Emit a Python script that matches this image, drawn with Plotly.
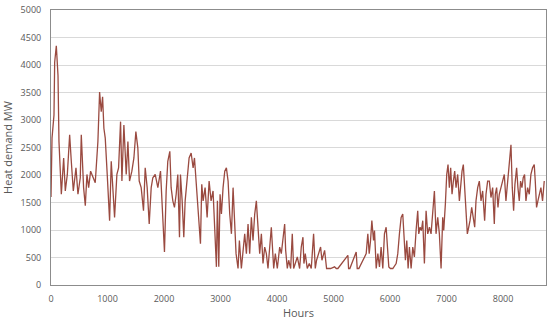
import plotly.graph_objects as go

# hours of the year (x) and heat demand in MW (y)
hours = [
    0, 6, 18, 53, 65, 94, 124, 141, 159, 183, 224, 253, 289, 330, 359, 395, 442, 477, 518, 536,
    577, 607, 636, 666, 701, 742, 783, 830, 860, 889, 913, 936, 960, 995, 1037, 1066, 1090, 1125,
    1166, 1196, 1231, 1255, 1290, 1331, 1361, 1390, 1431, 1467, 1502, 1537, 1561, 1596, 1637,
    1667, 1702, 1738, 1773, 1802, 1844, 1891, 1938, 1973, 2008, 2038, 2067, 2103, 2126, 2156,
    2185, 2215, 2244, 2274, 2291, 2321, 2350, 2374, 2409, 2444, 2480, 2515, 2539, 2574, 2609,
    2645, 2668, 2692, 2727, 2763, 2798, 2833, 2868,
    2898, 2927, 2945, 2969, 2992, 3016, 3045, 3075, 3104, 3134, 3163, 3193, 3222, 3251, 3275,
    3310, 3334, 3369, 3399, 3428, 3458, 3487, 3516, 3546, 3575, 3605, 3634, 3664, 3693, 3723,
    3752, 3782, 3811, 3840, 3870, 3899, 3941, 3970, 4005, 4047, 4076, 4105, 4135, 4153, 4182,
    4206, 4241, 4270, 4294, 4323, 4359, 4400, 4429, 4459, 4476, 4500, 4535, 4571, 4606, 4647,
    4677, 4700, 4736, 4771, 4795, 4818, 4842, 4877, 4901, 4948, 5018, 5048, 5077, 5254, 5266,
    5289, 5401, 5419, 5448, 5578, 5607, 5631, 5655, 5678, 5708, 5725, 5755, 5784,
    5813, 5842, 5872, 5901, 5931, 5960, 5978, 6007, 6049, 6108, 6137, 6166, 6196, 6225, 6249,
    6272, 6296, 6320, 6343, 6373, 6402, 6431, 6461, 6490, 6508, 6532, 6555, 6579, 6608, 6638,
    6667, 6697, 6726, 6755, 6785, 6814, 6844, 6873, 6903, 6932, 6950, 6979, 7003, 7026, 7050,
    7073, 7097, 7121, 7144, 7168, 7197, 7227, 7250, 7274, 7297, 7321, 7344, 7368, 7392, 7415,
    7445, 7474, 7498, 7521, 7551, 7580, 7610, 7639, 7674, 7698, 7727, 7757, 7786, 7816, 7845,
    7863, 7886, 7910, 7933, 7963, 7992, 8022, 8051, 8081, 8110, 8140, 8163, 8187, 8210, 8240,
    8263, 8287, 8310, 8334, 8357, 8381, 8405, 8434, 8464, 8493, 8522, 8552, 8570, 8593, 8617,
    8640, 8670, 8699, 8729, 8758,
]
demand = [
    1600, 2430, 2670, 3090, 4050, 4350, 3810, 2610, 2130, 1650, 2310, 1710, 2010, 2730, 2250, 1710, 2130, 1650, 1950, 2730,
    1770, 1440, 2010, 1770, 2070, 1950, 1860, 2610, 3510, 3150, 3420, 2850, 2670, 2010, 1170, 2250, 1770, 1230,
    2010, 2130, 2970, 1890, 2910, 2010, 2610, 1890, 2070, 2310, 2790, 2490, 1890, 1770, 1350,
    2130, 1770, 1110, 1770, 1950, 2010, 1770, 2070, 1410, 600, 1710, 2250, 2430, 1770, 1530,
    1410, 1650, 2010, 870, 2010, 1530, 870, 1530, 2010, 2310, 2400, 2130, 2310, 1770, 1410,
    750, 1830, 1530, 1770, 1230, 1890, 1530,
    1710, 930, 330, 1530, 330, 1650, 1290, 1770, 2070, 2130, 1890, 1290, 930, 1770, 990,
    570, 300, 810, 300, 570, 930, 570, 1110, 570, 1230, 810, 1290, 1530, 1050, 570,
    930, 390, 690, 570, 300, 630, 1050, 300, 570, 300, 690, 570, 810, 1110, 630,
    300, 450, 300, 930, 300, 390, 510, 300, 690, 870, 390, 570, 300, 390, 300,
    930, 300, 450, 570, 690, 450, 570, 630, 300, 300, 300, 330, 300, 300, 540,
    300, 300, 600, 300, 300, 570, 930, 570, 810, 1170, 810, 990, 300,
    570, 330, 690, 300, 930, 1050, 570, 330, 300, 300, 390, 570, 930, 1230, 1290,
    930, 450, 810, 300, 690, 300, 690, 510, 990, 1350, 930, 1050, 990, 1170, 390,
    1350, 930, 1050, 930, 1290, 1710, 930, 1230, 930, 300, 1230, 990, 1470, 2010, 2190,
    1770, 2130, 1650, 1890, 2070, 1770, 2010, 1530, 1890, 2070, 2190, 1770, 1290, 930, 1050,
    1170, 1410, 1170, 1050, 1530, 1770, 1890, 1530, 1710, 1170, 1650, 1890, 1890, 1590, 1770,
    1110, 1650, 1770, 1410, 1650, 1770, 1890, 2010, 1530, 1890, 2130, 2550, 1770, 1350, 1830,
    2130, 1770, 1530, 1890, 1770, 1950, 2010, 1530, 1770, 1650, 2010, 2130, 2190, 1890, 1410,
    1530, 1650, 1770, 1530, 1890,
]

y_ticks = [0, 500, 1000, 1500, 2000, 2500, 3000, 3500, 4000, 4500, 5000]
x_ticks = [0, 1000, 2000, 3000, 4000, 5000, 6000, 7000, 8000]

fig = go.Figure()
fig.add_trace(go.Scatter(x=hours, y=demand, mode="lines",
                         line=dict(color="#9a4a40", width=1.3), showlegend=False))

font = dict(family="Open Sans, Liberation Sans, sans-serif", size=9, color="#595959")

fig.update_xaxes(range=[0, 8760], tickvals=x_ticks, showgrid=False, zeroline=False,
                 showline=True, linecolor="#8c8c8c", linewidth=1, mirror=True,
                 ticks="outside", ticklen=5, tickcolor="rgba(0,0,0,0)",
                 tickfont=font,
                 title=dict(text="Hours", font=dict(family=font["family"], size=11, color="#595959"),
                            standoff=2))
fig.update_yaxes(range=[0, 5000], tickvals=y_ticks, showgrid=True, gridcolor="#d9d9d9",
                 gridwidth=1, zeroline=False,
                 showline=True, linecolor="#8c8c8c", linewidth=1, mirror=True,
                 ticks="outside", ticklen=7, tickcolor="rgba(0,0,0,0)",
                 tickfont=font,
                 title=dict(text="Heat demand MW", font=dict(family=font["family"], size=11, color="#595959"),
                            standoff=6))

fig.update_layout(width=550, height=320, plot_bgcolor="white", paper_bgcolor="white",
                  margin=dict(l=51, r=3, t=7, b=35))

# page margin off so the 550x320 figure sits at the window's corner
fig.write_html("out.html", config={"displayModeBar": False},
               post_script="document.body.style.margin='0';")
